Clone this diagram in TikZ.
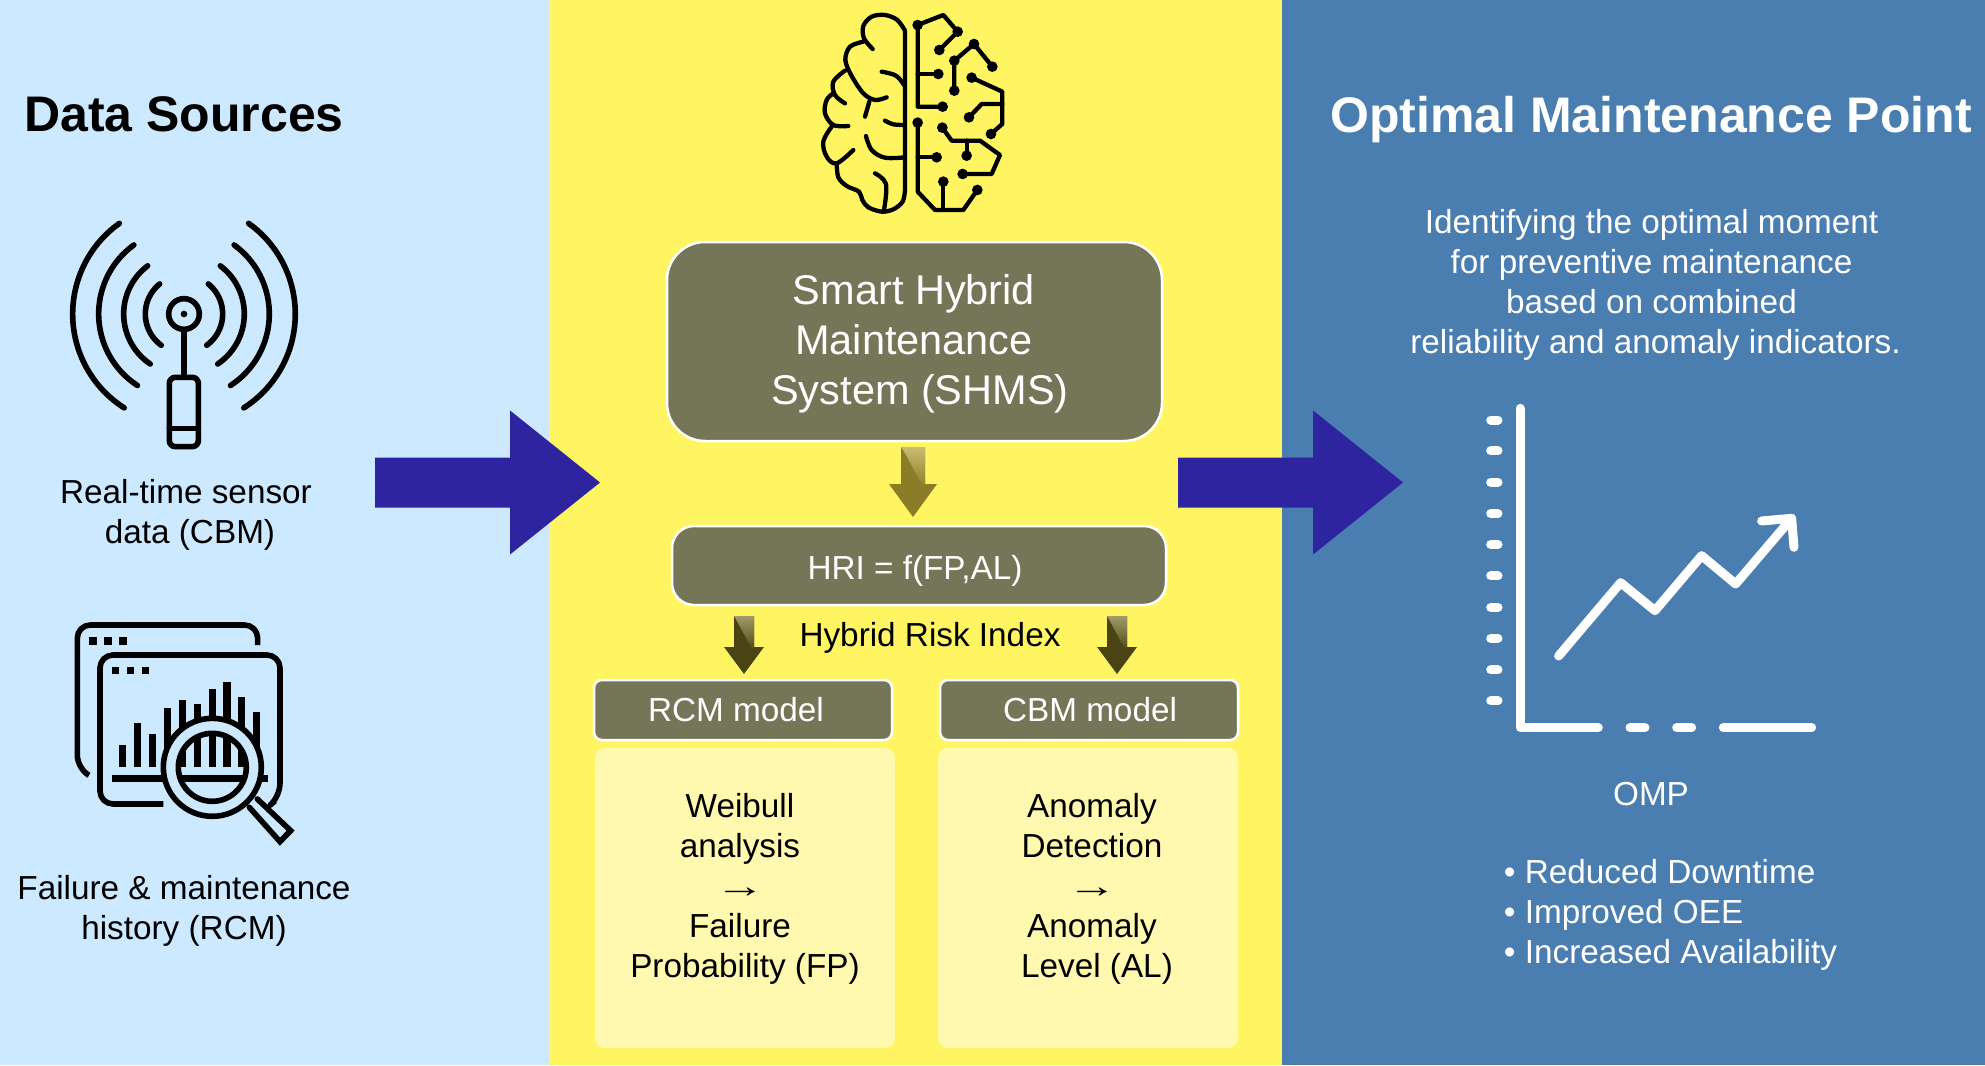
\documentclass[tikz,border=0pt]{standalone}
\usepackage{fontspec}
\setmainfont{Liberation Sans}
\usetikzlibrary{calc}
\definecolor{paneL}{HTML}{CCE9FF}
\definecolor{paneM}{HTML}{FFF562}
\definecolor{paneR}{HTML}{4A7DB0}
\definecolor{boxol}{HTML}{757558}
\definecolor{boxlt}{HTML}{FFF9B0}
\definecolor{bigarrow}{HTML}{2E24A0}
\definecolor{arA}{HTML}{8B7C28}
\definecolor{arAt}{HTML}{C9BC70}
\definecolor{arB}{HTML}{4A4415}
\definecolor{arBt}{HTML}{A29A68}
\newcommand{\fs}[2]{\fontsize{#1}{#2}\selectfont}
\newcommand{\longarr}{\scalebox{1.5}[1]{→}}
\tikzset{
  panel/.style={draw=none},
  olive/.style={draw=white,line width=2.5pt,fill=boxol,text=white,inner sep=0pt,align=center},
  shmsbox/.style={olive,minimum width=495pt,minimum height=199pt,rounded corners=38pt},
  hribox/.style={olive,minimum width=494pt,minimum height=79pt,rounded corners=22pt},
  modelbox/.style={olive,minimum width=298pt,minimum height=60pt,rounded corners=8pt},
  ltbox/.style={draw=none,fill=boxlt,inner sep=0pt,minimum width=300pt,minimum height=300pt,rounded corners=10pt},
  label/.style={inner sep=0pt,align=center,font=\fs{33.3}{40}},
  wlabel/.style={label,text=white},
  biglabel/.style={inner sep=0pt,align=center,text=white,font=\fs{41.5}{50}},
  title/.style={inner sep=0pt,font=\bfseries\fs{50}{56}},
  icon/.style={line width=4.3pt,line cap=round,line join=round,draw=black},
  iconb/.style={line width=5.6pt,line cap=round,line join=round,draw=black},
  chart/.style={line width=9pt,line cap=round,line join=round,draw=white},
}
\newcommand{\bigarrowright}[2]{%
  \fill[bigarrow] ($(#1)+(0,-25)$) -- ($(#2)+(-90,-25)$) -- ($(#2)+(-90,-72)$) -- (#2) -- ($(#2)+(-90,72)$) -- ($(#2)+(-90,25)$) -- ($(#1)+(0,25)$) -- cycle;}
\newcommand{\blockdown}[7]{%
  \fill[#6] ($(#1)+(-#3,0)$) -- ($(#2)+(-#3,-#5)$) -- ($(#2)+(-#4,-#5)$) -- (#2) -- ($(#2)+(#4,-#5)$) -- ($(#2)+(#3,-#5)$) -- ($(#1)+(#3,0)$) -- cycle;
  \shade[top color=#7,bottom color=#6] ($(#1)+(-#3,0)$) .. controls ($(#1)+(-#3*0.3,12)$) and ($(#2)+(#3*0.4,-#5-4)$) .. ($(#2)+(#3,-#5+4)$) -- ($(#1)+(#3,0)$) -- cycle;}
\begin{document}
\begin{tikzpicture}[x=1pt,y=-1pt]
\useasboundingbox (0,0) rectangle (1985,1065);
\fill[paneL] (0,0) rectangle (549,1065);
\fill[paneM] (549,0) rectangle (1282,1065);
\fill[paneR] (1282,0) rectangle (1985,1065);

% ---- brain
\begin{scope}[shift={(780,0)},x=0.3333pt,y=-0.3333pt]
\draw[icon] plot[smooth,tension=.55] coordinates {(278,147)(252,115)(250,78)(275,50)(315,45)(352,60)(375,92)} -- (375,570);
\draw[icon] plot[smooth,tension=.55] coordinates {(375,570)(368,605)(340,628)(305,635)(265,622)(247,600)(237,575)(200,558)(175,532)(170,490)};
\draw[icon] plot[smooth,tension=.6] coordinates {(220,450)(170,490)(140,470)(130,425)(155,380)};
\draw[icon] plot[smooth,tension=.6] coordinates {(205,378)(160,375)(135,340)(140,300)(160,280)};
\draw[icon] plot[smooth,tension=.6] coordinates {(195,310)(165,285)(160,245)(195,212)};
\draw[icon] plot[smooth,tension=.55] coordinates {(320,292)(285,300)(250,280)(215,228)(196,180)(210,140)(250,125)};
\draw[icon] plot[smooth,tension=.6] coordinates {(305,215)(348,227)(372,255)};
\draw[icon] (268,305) -- (255,350);
\draw[icon] plot[smooth,tension=.6] coordinates {(315,362)(340,373)(375,375)};
\draw[icon] plot[smooth,tension=.6] coordinates {(258,408)(275,450)(315,473)(375,472)};
\draw[icon] plot[smooth,tension=.6] coordinates {(285,520)(318,552)(312,630)};
\draw[icon] (533,95) -- (490,45) -- (413,75) -- (413,320) -- (488,320);
\draw[icon] (478,150) -- (533,95);
\draw[icon] (413,222) -- (475,222);
\draw[icon] (523,272) -- (523,182) -- (582,132) -- (637,200);
\draw[icon] (575,233) -- (667,275) -- (667,372) -- (633,402);
\draw[icon] (667,312) -- (605,312) -- (567,352);
\draw[icon] (413,368) -- (413,575) -- (465,630) -- (550,630) -- (592,570);
\draw[icon] (413,472) -- (470,472);
\draw[icon] (490,545) -- (490,630);
\draw[icon] (487,383) -- (515,422) -- (600,422) -- (660,465) -- (635,522) -- (548,522);
\draw[icon] (560,422) -- (560,467);
\foreach \p in {(413,75),(533,95),(478,150),(475,222),(488,320),(523,182),(582,132),(637,200),(523,272),(575,233),(633,402),(567,352),(413,368),(592,570),(470,472),(490,545),(487,383),(548,522),(560,467)}
  \fill \p circle[radius=16];
\end{scope}

% ---- antenna
\begin{scope}[shift={(50,200)},x=0.3333pt,y=-0.3333pt]
\foreach \r/\a/\b in {116/51/54,181/53/56,256/54/57,334/54.5/57.5}{
  \draw[iconb] plot[domain=-\a:\b,samples=30,smooth] ({402-\r*cos(\x)},{342+\r*sin(\x)});
  \draw[iconb] plot[domain=-\a:\b,samples=30,smooth] ({402+\r*cos(\x)},{342+\r*sin(\x)});
}
\draw[iconb] (402,342) circle[radius=46];
\fill (402,342) circle[radius=10];
\draw[iconb] (402,392) -- (402,532);
\draw[iconb,rounded corners=6pt] (358,532) rectangle (445,740);
\draw[iconb] (358,685) -- (445,685);
\end{scope}

% ---- analytics windows
\begin{scope}[shift={(50,600)},x=0.3333pt,y=-0.3333pt]
\draw[iconb,line cap=butt,rounded corners=13pt] (117,526) -- (82,505) -- (82,75) -- (623,75) -- (623,135);
\draw[iconb,line cap=butt,rounded corners=13pt] (340,612) -- (150,612) -- (150,165) -- (690,165) -- (690,590) -- (675,603);
\foreach \x in {118,163,208} \fill (\x,112) rectangle ++(22,22);
\foreach \x in {185,230,275} \fill (\x,200) rectangle ++(22,22);
\foreach \x/\y in {218/435,263/370,308/403,353/325,397/300,442/313,487/268,531/246,575/290,620/335}
  \fill ({\x-11},\y) rectangle ({\x+11},502);
\fill (185,525) rectangle (655,547);
\draw[paneL,line width=15pt] (487,502) circle[radius=125];
\draw[iconb] (487,502) circle[radius=147];
\draw[iconb] (487,502) circle[radius=102];
\fill[paneL] (598,622) -- (690,725) -- (722,692) -- (622,597) -- cycle;
\draw[iconb,line join=miter] (598,622) -- (690,725) -- (722,692) -- (622,597);
\end{scope}

% ---- chart
\begin{scope}[shift={(1450,390)},x=0.3333pt,y=-0.3333pt]
\draw[chart] (210,55) -- (210,1013) -- (445,1013);
\draw[chart] (540,1013) -- (585,1013);
\draw[chart] (680,1013) -- (725,1013);
\draw[chart] (820,1013) -- (1085,1013);
\foreach \y in {90,183,277,371,464,558,652,745,840,933}
  \draw[chart] (122,\y) -- (144,\y);
\draw[chart] (326,798) -- (512,578) -- (615,662) -- (755,497) -- (857,582) -- (1025,385);
\draw[chart] (935,393) -- (1025,385) -- (1032,472);
\end{scope}

% ---- nodes
\node[title] (t1) at (184,114) {Data Sources};
\node[label] (l1) at (186,515) {Real-time sensor\\\hspace*{8pt}data (CBM)};
\node[label] (l2) at (184,911) {Failure \& maintenance\\history (RCM)};

\node[shmsbox] (shms) at (914.5,341.5) {};
\node[biglabel] (shmst) at (914,343.5) {Smart Hybrid\\Maintenance\\\hspace*{12pt}System (SHMS)};
\node[hribox] (hri) at (919,565.5) {};
\node[wlabel] (hrit) at (915,570.5) {HRI = f(FP,AL)};
\node[label] (hrl) at (930,637.5) {Hybrid Risk Index};
\node[modelbox] (rcm) at (743,710) {};
\node[wlabel] (rcmt) at (736,710) {RCM model};
\node[modelbox] (cbm) at (1089,710) {};
\node[wlabel] (cbmt) at (1090,710) {CBM model};
\node[ltbox] (wb) at (745,898) {};
\node[label] (wbt) at (740,888.5) {Weibull\\analysis\\\longarr\\Failure\\\hspace*{10pt}Probability (FP)};
\node[ltbox] (an) at (1088,898) {};
\node[label] (ant) at (1092,888.5) {Anomaly\\Detection\\\longarr\\Anomaly\\\hspace*{10pt}Level (AL)};

\node[title,text=white] (t2) at (1651,119.5) {Optimal Maintenance Point};
\node[wlabel] (d1) at (1651.5,284.5) {Identifying the optimal moment\\for preventive maintenance\\based on combined\\\hspace*{8pt}reliability and anomaly indicators.};
\node[wlabel] (omp) at (1651,794) {OMP};
\node[wlabel,align=left] (bl) at (1670.5,915) {• Reduced Downtime\\• Improved OEE\\• Increased Availability};

% ---- block arrows
\coordinate (a1s) at (375,482.5);
\coordinate (a1t) at (600,482.5);
\coordinate (a2s) at (1178,482.5);
\coordinate (a2t) at (1403,482.5);
\bigarrowright{a1s}{a1t}
\bigarrowright{a2s}{a2t}
\coordinate (a3s) at (913,447);
\coordinate (a3t) at (913,517);
\coordinate (a4s) at (744,616);
\coordinate (a4t) at (744,674);
\coordinate (a5s) at (1117,616);
\coordinate (a5t) at (1117,674);
\blockdown{a3s}{a3t}{12}{24}{33}{arA}{arAt}
\blockdown{a4s}{a4t}{10}{20}{27}{arB}{arBt}
\blockdown{a5s}{a5t}{10}{20}{27}{arB}{arBt}
\end{tikzpicture}
\end{document}
